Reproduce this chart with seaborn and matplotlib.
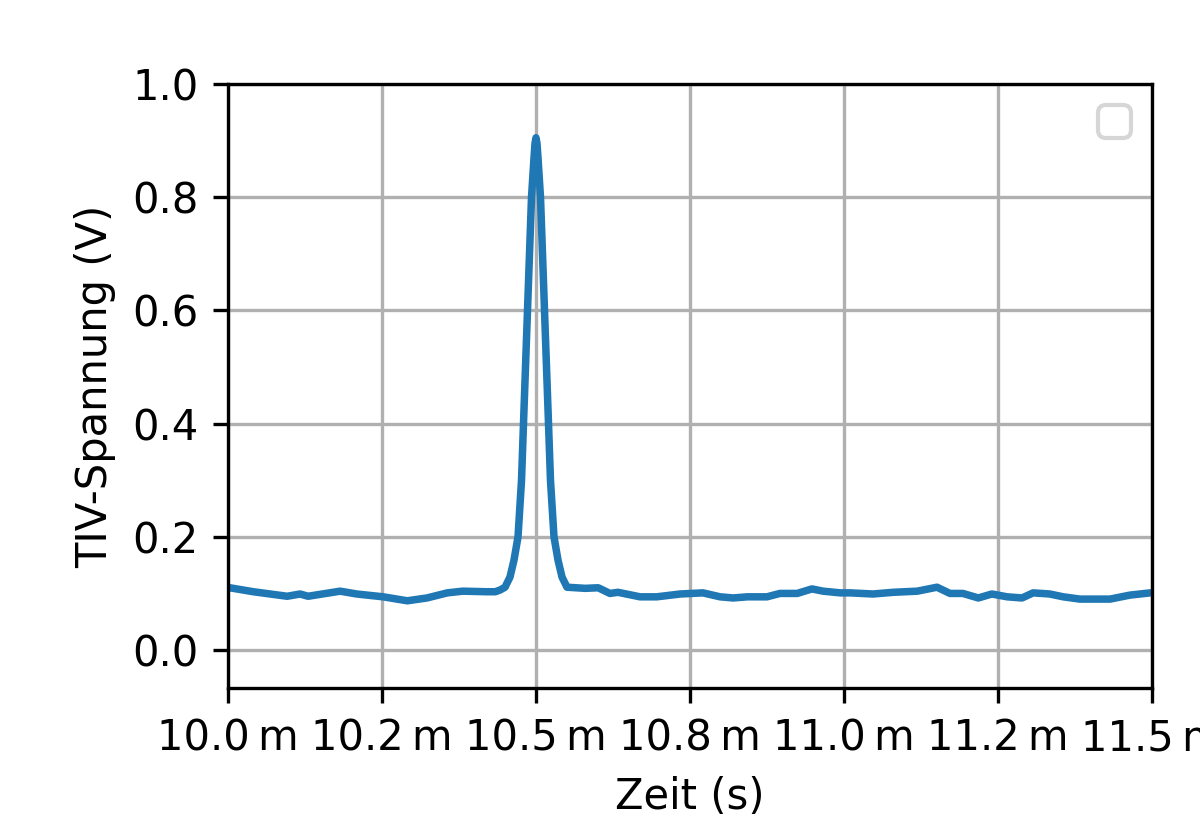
import numpy as np
import pandas as pd
import seaborn as sns
import matplotlib
matplotlib.use("Agg")
import matplotlib.pyplot as plt
from matplotlib.ticker import FuncFormatter

zeit_ms = [10.000, 10.003, 10.041, 10.096, 10.117, 10.130, 10.182, 10.209, 10.252,
           10.291, 10.323, 10.356, 10.381, 10.420, 10.434, 10.4416, 10.4497, 10.4578,
           10.4643, 10.4708, 10.4765, 10.4797, 10.4862, 10.4927, 10.4968, 10.4984,
           10.500, 10.5016, 10.5032, 10.5073, 10.5138, 10.5203, 10.5235, 10.5292,
           10.5357, 10.5422, 10.5503, 10.5649, 10.580,
           10.601, 10.620, 10.633, 10.669, 10.696, 10.734, 10.771, 10.799,
           10.820, 10.843, 10.875, 10.896, 10.924, 10.948, 10.966, 10.994, 11.010,
           11.047, 11.080, 11.119, 11.151, 11.172, 11.193, 11.218, 11.240, 11.265,
           11.289, 11.307, 11.334, 11.356, 11.383, 11.432, 11.464, 11.497, 11.500]
spannung = [0.109, 0.110, 0.103, 0.095, 0.099, 0.095, 0.104, 0.099, 0.094,
            0.087, 0.092, 0.101, 0.104, 0.103, 0.103, 0.106, 0.111, 0.129,
            0.159, 0.200, 0.300, 0.400, 0.600, 0.800, 0.870, 0.895,
            0.905, 0.895, 0.870, 0.800, 0.600, 0.400, 0.300, 0.200,
            0.159, 0.129, 0.111, 0.110, 0.109,
            0.110, 0.100, 0.102, 0.094, 0.094, 0.099, 0.101, 0.094,
            0.092, 0.094, 0.094, 0.100, 0.100, 0.108, 0.104, 0.101, 0.101,
            0.099, 0.102, 0.104, 0.111, 0.100, 0.100, 0.092, 0.099, 0.094,
            0.092, 0.101, 0.099, 0.094, 0.090, 0.090, 0.097, 0.101, 0.101]

x_ticks_ms = [10.0, 10.25, 10.5, 10.75, 11.0, 11.25, 11.5]

df = pd.DataFrame({"t": np.array(zeit_ms) * 1e-3, "u": spannung})

fig, ax = plt.subplots(figsize=(4, 2.8), dpi=300)
sns.lineplot(data=df, x="t", y="u", ax=ax, color="#1f77b4", linewidth=1.8)

ax.set_xlim(10.0e-3, 11.5e-3)
ax.set_ylim(-0.067, 1.0)
ax.set_xticks(np.array(x_ticks_ms) * 1e-3)
ax.set_yticks([0.0, 0.2, 0.4, 0.6, 0.8, 1.0])
ax.xaxis.set_major_formatter(FuncFormatter(lambda v, p: f"{round(v * 1e3, 6):.1f}\u2009m"))
ax.set_xlabel("Zeit (s)")
ax.set_ylabel("TIV-Spannung (V)")
ax.grid(True)
ax.legend(loc="upper right")

plt.subplots_adjust(left=0.19, right=0.96, top=0.9, bottom=0.181)
plt.savefig("out.png", dpi=300)
